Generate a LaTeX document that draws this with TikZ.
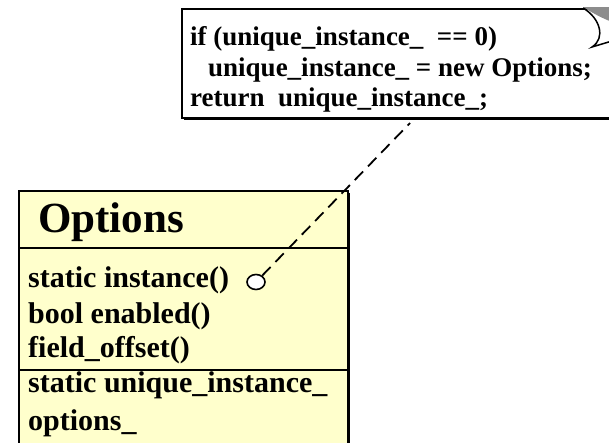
\documentclass[tikz,border=0pt]{standalone}
\usepackage{fontspec}
\setmainfont{Liberation Serif}
\usepackage{tikz}
\usetikzlibrary{shapes.geometric,shadows,positioning}
\definecolor{umlyellow}{HTML}{FFFFCC}
\definecolor{foldgray}{HTML}{8C8C8C}
\tikzset{
  noteframe/.style={
    draw=black, fill=white, line width=1.6pt, inner sep=0pt,
    anchor=north west,
    drop shadow={shadow xshift=2pt, shadow yshift=-2.5pt,
                 fill=black, opacity=1}
  },
  classframe/.style={
    draw=black, fill=umlyellow, line width=1.6pt, inner sep=0pt,
    anchor=north west,
    drop shadow={shadow xshift=2pt, shadow yshift=-2pt,
                 fill=black, opacity=1}
  },
  notetext/.style={
    font=\fontsize{27}{30}\selectfont\bfseries,
    inner sep=0pt, anchor=base west
  },
  classname/.style={
    font=\fontsize{43}{46}\selectfont\bfseries,
    inner sep=0pt, anchor=base west
  },
  membertext/.style={
    font=\fontsize{30}{34}\selectfont\bfseries,
    inner sep=0pt, anchor=base west
  },
  divider/.style={draw=black, line width=2pt},
  knob/.style={
    ellipse, draw=black, fill=white, line width=1.6pt,
    minimum width=18pt, minimum height=15pt, inner sep=0pt
  },
  noteline/.style={draw=black, line width=1.8pt, dash pattern=on 12pt off 7pt}
}

\begin{document}
\begin{tikzpicture}[x=1pt, y=-1pt]
  \useasboundingbox (0,0) rectangle (609,442);
  \clip (0,0) rectangle (609,442);

  %% ---- note ----
  \node[noteframe, minimum width=440pt, minimum height=109pt] (note) at (181,8) {};
  \fill[foldgray] (583,7.2) -- (612,7.2) -- (612,22) .. controls (600,17) .. (583,7.2);
  \draw[line width=1.5pt] (583,8) .. controls (600,18) and (606,38) .. (592,47)
    -- (612,41);
  \node[notetext] (n_if) at (190,45) {if (unique\_instance\_\ \ == 0)};
  \node[notetext] (n_new) at (208,76) {unique\_instance\_ = new Options;};
  \node[notetext] (n_ret) at (190,106) {return\ \ unique\_instance\_;};

  %% ---- Options ----
  \node[classframe, minimum width=329pt, minimum height=280pt] (opts) at (18,190) {};
  \node[classname] (o_name) at (38,232) {Options};
  \draw[divider] (18,248) -- (347,248);
  \node[membertext] (o_inst) at (28,287) {static instance()};
  \node[membertext] (o_enab) at (28,323) {bool enabled()};
  \node[membertext] (o_offs) at (28,357) {field\_offset()};
  \draw[divider] (18,370) -- (347,370);
  \node[membertext] (o_uniq) at (28,392) {static unique\_instance\_};
  \node[membertext] (o_optn) at (28,430) {options\_};

  %% note link
  \node[knob] (knob) at (256,282) {};
  \coordinate (notept) at (410,123);
  \draw[noteline] (knob) -- (notept);

\end{tikzpicture}
\end{document}
